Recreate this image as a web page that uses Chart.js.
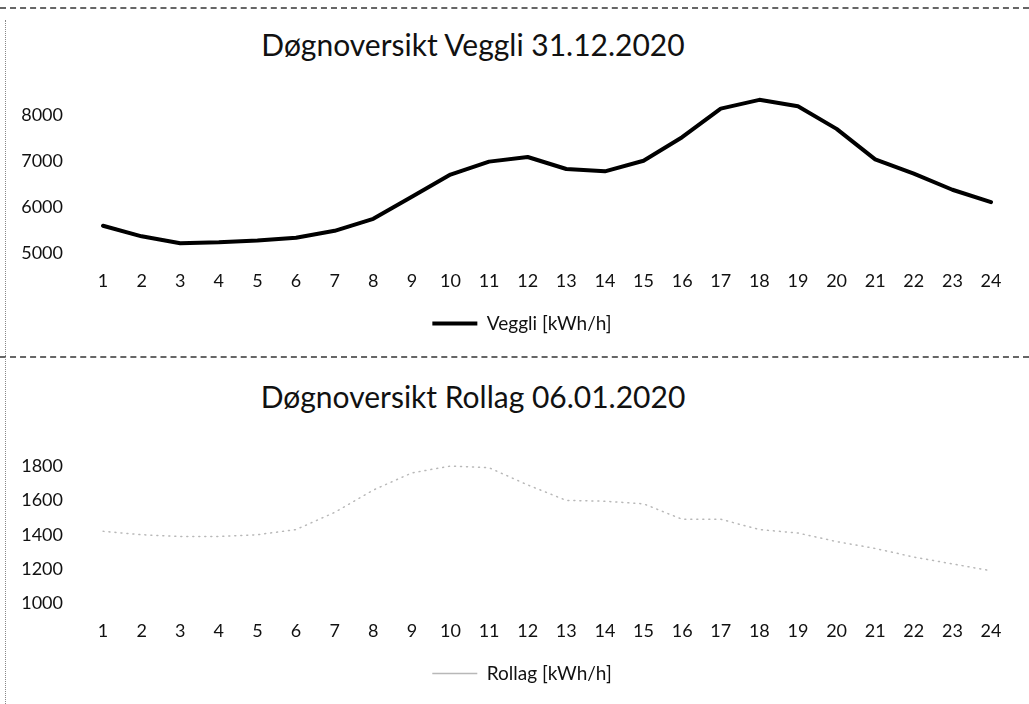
<!DOCTYPE html>
<html>
<head>
<meta charset="utf-8">
<script src="https://cdn.jsdelivr.net/npm/chart.js@4"></script>
<style>
  html, body { margin: 0; padding: 0; background: #fff; }
  body { width: 1029px; height: 704px; position: relative; overflow: hidden; font-family: Lato, sans-serif; }
  .box { position: absolute; left: 5px; width: 1024px; height: 350px; }
  .title { position: absolute; transform: translateX(-50%); white-space: nowrap;
           font-size: 30px; line-height: 34px; color: #111; }
  .hline { position: absolute; left: 0; width: 1029px; border-top: 2px dashed #666; }
  .vline { position: absolute; left: 5px; top: 20px; height: 690px; border-left: 1px dotted #888; }
</style>
</head>
<body>
<div class="hline" style="top:7px"></div>
<div class="hline" style="top:356px"></div>
<div class="vline"></div>

<div class="title" style="left:473px; top:27px">Døgnoversikt Veggli 31.12.2020</div>
<div class="title" style="left:473px; top:379px">Døgnoversikt Rollag 06.01.2020</div>

<div class="box" style="top:8px"><canvas id="chart-veggli"></canvas></div>
<div class="box" style="top:358px"><canvas id="chart-rollag"></canvas></div>

<script>
'use strict';

// Timer i dognet
const HOURS = ['1', '2', '3', '4', '5', '6', '7', '8', '9', '10', '11', '12',
  '13', '14', '15', '16', '17', '18', '19', '20', '21', '22', '23', '24'];

// Veggli 31.12.2020 [kWh/h]
const VEGGLI = [5600, 5370, 5220, 5240, 5280, 5340, 5490, 5750, 6230, 6710, 6990, 7090,
  6830, 6780, 7010, 7520, 8140, 8330, 8190, 7700, 7040, 6730, 6380, 6110];
const VEGGLI_TICKS = [5000, 6000, 7000, 8000];

// Rollag 06.01.2020 [kWh/h] (svak stiplet linje i originalen)
const ROLLAG = [1420, 1400, 1390, 1390, 1400, 1430, 1530, 1660, 1760, 1800, 1790, 1690,
  1600, 1595, 1580, 1490, 1490, 1430, 1410, 1360, 1320, 1270, 1230, 1190];
const ROLLAG_TICKS = [1000, 1200, 1400, 1600, 1800];

const TEXT = '#111';
const FONT = 'Lato';
const LEGEND_SHIFT = 24; // legenden star litt til hoyre for midten i originalen

// Flytter legendboksen etter layout, uten a endre plottomradet.
const shiftLegend = {
  id: 'shiftLegend',
  afterLayout(chart) {
    if (!chart.legend) return;
    chart.legend.left += LEGEND_SHIFT;
    chart.legend.right += LEGEND_SHIFT;
  },
};

function makeChart(canvasId, label, data, line, y) {
  const ctx = document.getElementById(canvasId).getContext('2d');
  return new Chart(ctx, {
    type: 'line',
    data: {
      labels: HOURS,
      datasets: [{
        label: label,
        data: data,
        borderColor: line.color,
        backgroundColor: line.color,
        borderWidth: line.width,
        borderDash: line.dash,
        borderCapStyle: 'round',
        borderJoinStyle: 'round',
        pointRadius: 0,
        tension: 0,
      }],
    },
    plugins: [shiftLegend],
    options: {
      responsive: true,
      maintainAspectRatio: false,
      animation: false,
      layout: { padding: { top: 84, right: 38, bottom: 15, left: 0 } },
      plugins: {
        title: { display: false },
        tooltip: { enabled: false },
        legend: {
          position: 'bottom',
          labels: {
            color: TEXT,
            font: { family: FONT, size: 19 },
            usePointStyle: true,
            pointStyle: 'line',
            pointStyleWidth: 45,
            boxHeight: 19,
            padding: 5,
          },
        },
      },
      scales: {
        x: {
          offset: false,
          grid: { display: false, drawTicks: false },
          border: { display: false },
          ticks: { color: TEXT, font: { family: FONT, size: 18 }, padding: 17, maxRotation: 0, autoSkip: false },
        },
        y: {
          min: y.min,
          max: y.max,
          grid: { display: false, drawTicks: false },
          border: { display: false },
          ticks: {
            color: TEXT,
            font: { family: FONT, size: 18 },
            padding: 40,
            autoSkip: false,
            callback: (v) => String(v),
          },
          afterBuildTicks: (scale) => { scale.ticks = y.ticks.map((v) => ({ value: v })); },
          afterFit: (scale) => { scale.width = 98; },
        },
      },
    },
  });
}

makeChart('chart-veggli', 'Veggli [kWh/h]', VEGGLI,
  { color: '#000', width: 4, dash: [] },
  { min: 5000, max: 8500, ticks: VEGGLI_TICKS });

makeChart('chart-rollag', 'Rollag [kWh/h]', ROLLAG,
  { color: '#b8b8b8', width: 1.5, dash: [1, 5] },
  { min: 1000, max: 1940, ticks: ROLLAG_TICKS });
</script>
</body>
</html>
